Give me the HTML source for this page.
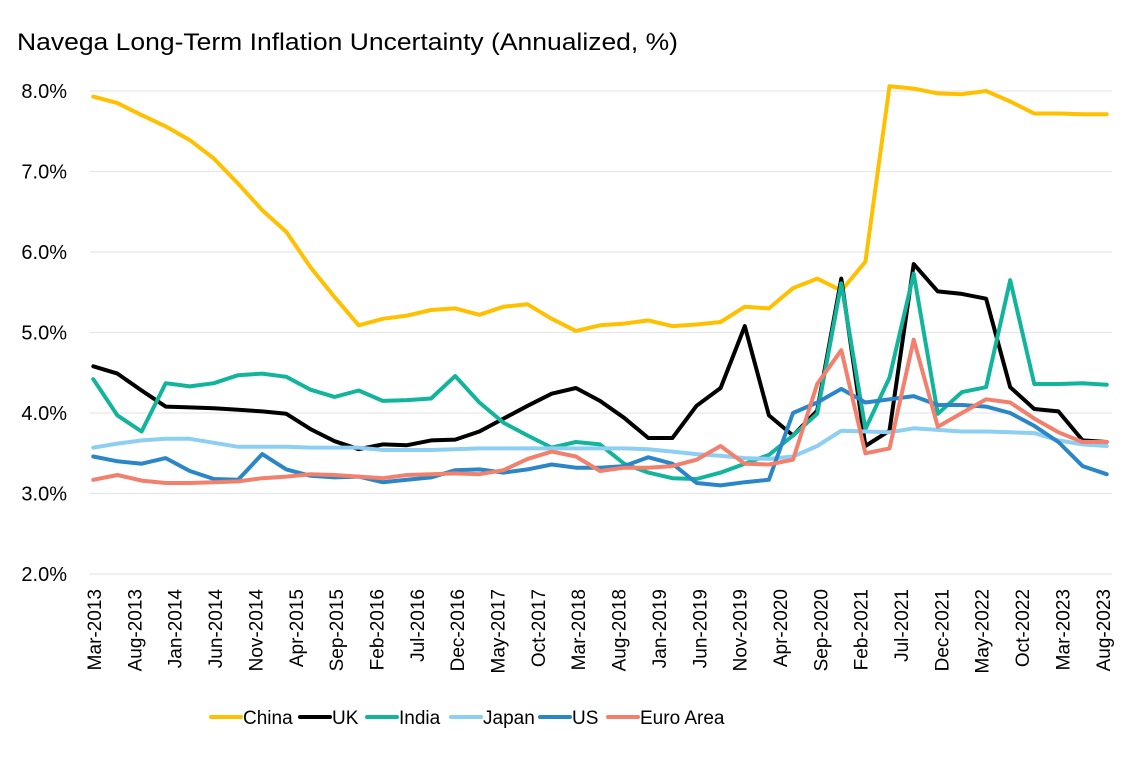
<!DOCTYPE html>
<html><head><meta charset="utf-8"><style>
body{margin:0;background:#fff;font-family:"Liberation Sans",sans-serif;}
svg text{font-family:"Liberation Sans",sans-serif;fill:#000;}
</style></head><body>
<svg id="chart" width="1133" height="752" xmlns="http://www.w3.org/2000/svg">
<rect width="1133" height="752" fill="#fff"/>
<text x="17" y="50" font-size="24.5" textLength="661" lengthAdjust="spacingAndGlyphs">Navega Long-Term Inflation Uncertainty (Annualized, %)</text>
<g id="grid"></g><g id="yticks"></g><g id="xticks"></g><g id="series"></g><g id="legend"></g>
</svg>
<script>
const yTicks=[2,3,4,5,6,7,8];
const xLabels=["Mar-2013","Aug-2013","Jan-2014","Jun-2014","Nov-2014","Apr-2015","Sep-2015","Feb-2016","Jul-2016","Dec-2016","May-2017","Oct-2017","Mar-2018","Aug-2018","Jan-2019","Jun-2019","Nov-2019","Apr-2020","Sep-2020","Feb-2021","Jul-2021","Dec-2021","May-2022","Oct-2022","Mar-2023","Aug-2023"];
const china=[7.93,7.85,7.70,7.56,7.39,7.16,6.85,6.52,6.25,5.81,5.44,5.09,5.17,5.21,5.28,5.30,5.22,5.32,5.35,5.17,5.02,5.09,5.11,5.15,5.08,5.10,5.13,5.32,5.30,5.55,5.67,5.52,5.88,8.06,8.03,7.97,7.96,8.00,7.87,7.72,7.72,7.71,7.71];
const uk=[4.58,4.49,4.28,4.08,4.07,4.06,4.04,4.02,3.99,3.80,3.65,3.55,3.61,3.60,3.66,3.67,3.77,3.93,4.09,4.24,4.31,4.15,3.94,3.69,3.69,4.09,4.31,5.08,3.97,3.72,4.03,5.67,3.59,3.78,5.85,5.51,5.48,5.42,4.32,4.05,4.02,3.66,3.64];
const india=[4.42,3.97,3.77,4.37,4.33,4.37,4.47,4.49,4.45,4.29,4.20,4.28,4.15,4.16,4.18,4.46,4.13,3.88,3.72,3.57,3.64,3.61,3.37,3.26,3.19,3.18,3.26,3.37,3.48,3.72,3.99,5.61,3.80,4.44,5.73,3.99,4.26,4.32,5.65,4.36,4.36,4.37,4.35];
const japan=[3.57,3.62,3.66,3.68,3.68,3.63,3.58,3.58,3.58,3.57,3.57,3.57,3.54,3.54,3.54,3.55,3.56,3.56,3.56,3.56,3.56,3.56,3.56,3.55,3.52,3.49,3.47,3.44,3.43,3.46,3.59,3.78,3.77,3.76,3.81,3.79,3.77,3.77,3.76,3.75,3.66,3.61,3.59];
const us=[3.46,3.40,3.37,3.44,3.28,3.18,3.17,3.49,3.30,3.22,3.20,3.21,3.14,3.17,3.20,3.29,3.30,3.26,3.30,3.36,3.32,3.32,3.34,3.45,3.37,3.13,3.10,3.14,3.17,4.00,4.13,4.30,4.13,4.17,4.21,4.10,4.10,4.08,4.00,3.84,3.64,3.34,3.24];
const euro=[3.17,3.23,3.16,3.13,3.13,3.14,3.15,3.19,3.21,3.24,3.23,3.21,3.19,3.23,3.24,3.25,3.24,3.29,3.43,3.52,3.46,3.28,3.32,3.32,3.34,3.42,3.59,3.37,3.36,3.42,4.36,4.78,3.50,3.56,4.91,3.83,4.00,4.17,4.13,3.93,3.76,3.64,3.64];
const seriesNames=["China","UK","India","Japan","US","Euro Area"];
const seriesColors=["#FFC000","#000000","#12B59C","#8CCFF2","#2A86C6","#F2806C"];
const seriesData=[china,uk,india,japan,us,euro];

const NS="http://www.w3.org/2000/svg";
const yScale=v=>574-(v-2)*80.5;
const xScale=i=>93.3+i*(1013.4/(china.length-1));
const xLabelPos=k=>94+k*40.35;
function mk(tag,attrs,parent){const e=document.createElementNS(NS,tag);for(const k in attrs)e.setAttribute(k,attrs[k]);parent.appendChild(e);return e;}
const grid=document.getElementById('grid'),yt=document.getElementById('yticks'),xt=document.getElementById('xticks'),ser=document.getElementById('series'),leg=document.getElementById('legend');
yTicks.forEach(v=>{
  const l=mk('line',{x1:90,x2:1112,y1:yScale(v),y2:yScale(v),stroke:'#e6e6e6','stroke-width':1.3},grid);
  
  
  const t=mk('text',{x:67,y:yScale(v)+7,'text-anchor':'end','font-size':20},yt);
  t.textContent=v.toFixed(1)+'%';
  
  
});
xLabels.forEach((s,k)=>{
  const x=xLabelPos(k);
  const t=mk('text',{x:0,y:0,'text-anchor':'end','font-size':19,transform:`translate(${x+7},589) rotate(-90)`},xt);
  t.textContent=s;
  
  
});
seriesData.forEach((d,si)=>{
  const pts=d.map((v,i)=>xScale(i).toFixed(1)+','+yScale(v).toFixed(1)).join(' ');
  const p=mk('polyline',{points:pts,fill:'none',stroke:seriesColors[si],'stroke-width':4,'stroke-linejoin':'round','stroke-linecap':'round'},ser);
  
  
});
const legX=[211,300,367,451,540,608];
seriesNames.forEach((n,si)=>{
  const g=mk('g',{},leg);
  
  
  mk('line',{x1:legX[si],x2:legX[si]+30,y1:717,y2:717,stroke:seriesColors[si],'stroke-width':4,'stroke-linecap':'round'},g);
  const t=mk('text',{x:legX[si]+32,y:724,'font-size':19},g);
  t.textContent=n;
});
</script>
</body></html>
